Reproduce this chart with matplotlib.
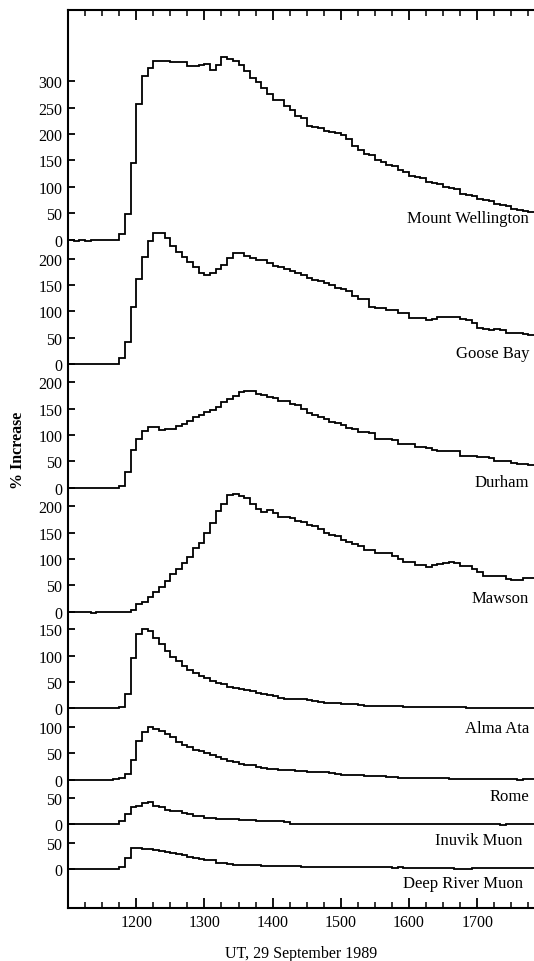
import numpy as np
import matplotlib
matplotlib.use("Agg")
import matplotlib.pyplot as plt
from matplotlib.ticker import MultipleLocator, FuncFormatter

plt.rcParams['font.family'] = ['Liberation Serif', 'DejaVu Serif']

# 5-minute bins starting at 11:00 UT, 29 September 1989 (82 bins)
t_start = 11.0
bin_hours = 5 / 60.0

stations = ["Mount Wellington", "Goose Bay", "Durham", "Mawson",
            "Alma Ata", "Rome", "Inuvik Muon", "Deep River Muon"]

mount_wellington = [-1, -2, -1, -2, -1, -1, -1, -1, -1,
                    10, 49, 145, 256, 310, 325, 338, 338, 338, 336, 336, 336,
                    329, 328, 331, 333, 322, 330, 346, 343, 339, 330, 320, 306, 298, 287, 275,
                    265, 265, 254, 246, 235, 230, 216, 214, 211, 206, 204, 202, 198, 190, 178,
                    170, 162, 160, 150, 148, 142, 140, 131, 129, 121, 119, 117, 110, 108, 105,
                    99, 97, 95, 87, 85, 82, 77, 75, 73, 68, 66, 63, 58, 56, 54, 52]
goose_bay = [0, 0, 0, 0, 0, 0, 0, 0, 0,
             11, 43, 108, 162, 204, 233, 248, 248, 240, 224, 213, 204,
             194, 184, 172, 169, 172, 180, 188, 202, 211, 211, 205, 201, 197, 197, 191,
             187, 185, 181, 176, 173, 169, 164, 159, 157, 154, 150, 144, 142, 138, 129,
             123, 123, 109, 106, 106, 103, 103, 98, 98, 88, 88, 88, 84, 86, 89,
             90, 90, 89, 85, 84, 79, 68, 67, 65, 66, 64, 60, 60, 60, 58, 56]
durham = [0, 0, 0, 0, 0, 0, 0, 0, 0,
          4, 30, 71, 92, 108, 116, 115, 110, 112, 112, 117, 121,
          126, 134, 137, 143, 148, 153, 162, 169, 174, 181, 183, 183, 178, 176, 172,
          170, 165, 165, 159, 156, 150, 142, 138, 134, 130, 125, 122, 118, 114, 112,
          106, 105, 104, 93, 93, 92, 91, 83, 83, 82, 77, 77, 76, 71, 70,
          70, 69, 69, 61, 61, 60, 58, 58, 57, 51, 50, 50, 46, 45, 45, 44]
mawson = [0, 0, 0, 0, -3, 0, 0, 0, 0, 0, 0,
          4, 14, 19, 28, 37, 47, 59, 71, 81, 93, 104, 120, 131, 149, 168,
          191, 204, 221, 224, 220, 215, 205, 195, 190, 192, 188, 180, 180, 177, 172,
          170, 164, 162, 157, 150, 145, 143, 137, 133, 128, 124, 117, 117, 111, 111,
          111, 105, 100, 95, 95, 88, 88, 85, 88, 90, 92, 95, 92, 87, 87,
          82, 75, 68, 68, 68, 67, 62, 61, 61, 64, 64]
alma_ata = [0, 0, 0, 0, 0, 0, 0, 0, 0,
            3, 27, 95, 141, 150, 147, 134, 122, 108, 98, 89, 81,
            73, 67, 61, 57, 52, 49, 47, 41, 39, 36, 34, 33, 30, 28, 26,
            23, 19, 18, 18, 17, 17, 16, 14, 12, 11, 10, 10, 9, 9, 8,
            6, 5, 5, 5, 4, 4, 4, 4, 3, 3, 2, 2, 2, 2, 2,
            2, 2, 2, 2, 1, 1, 1, 1, 1, 1, 1, 1, 0, 1, 0, 1]
rome = [-1, -1, -1, -1, -1, 0, 0, 0,
        2, 3, 11, 37, 74, 91, 100, 97, 92, 86, 80, 71, 65,
        62, 57, 54, 50, 46, 43, 39, 35, 33, 30, 28, 27, 25, 22, 21,
        20, 18, 18, 18, 17, 16, 15, 15, 15, 14, 12, 10, 9, 9, 8,
        8, 7, 7, 7, 7, 6, 6, 4, 3, 3, 3, 3, 3, 3, 3,
        3, 2, 2, 2, 2, 2, 2, 2, 2, 2, 2, 2, 2, -1, 1, 1]
inuvik = [0, 0, 0, 0, 0, 0, 0, 0, 0,
          6, 20, 32, 35, 39, 41, 35, 32, 27, 25, 24, 21,
          20, 16, 15, 11, 11, 10, 9, 9, 9, 8, 7, 7, 6, 6, 6,
          6, 5, 3, 1, 1, 1, 1, 1, 1, 0, 0, 0, 0, 0, 0,
          0, 0, 0, 0, 0, 0, 0, 0, 0, 0, 0, 1, 0, 0, 0,
          0, 0, 0, 0, 0, 0, 0, 0, 0, 0, -1, 0, 0, 0, 0, 0]
deep_river = [0, 0, 0, 0, 0, 0, 0, 0, 0,
              4, 20, 40, 40, 38, 37, 35, 34, 32, 30, 28, 26,
              23, 21, 18, 17, 16, 12, 11, 9, 8, 8, 8, 7, 7, 6, 6,
              6, 6, 6, 6, 5, 3, 3, 3, 3, 3, 3, 3, 3, 3, 3,
              3, 3, 3, 3, 3, 3, 1, 3, 1, 2, 2, 2, 2, 2, 2,
              2, 2, 0, 0, 0, 2, 2, 2, 2, 2, 2, 2, 2, 2, 2, 2]

series = [mount_wellington, goose_bay, durham, mawson, alma_ata, rome, inuvik, deep_river]
tick_max = [300, 200, 200, 200, 150, 100, 50, 50]

# vertical offsets of each trace and label placement (layout)
offsets = [1192, 956, 722, 487, 304, 169, 85, 0]
label_y = [1225, 970, 725, 505, 259, 131, 47, -35]
label_x = [17.76, 17.76, 17.76, 17.76, 17.76, 17.76, 17.667, 17.667]

fig = plt.figure(figsize=(5.34, 9.62), dpi=100)
ax = fig.add_axes([68 / 534, 1 - 909 / 962, 1 - 68 / 534, (909 - 11) / 962])

n = len(mount_wellington)
edges = t_start + np.arange(n + 1) * bin_hours

yt, ytl = [], []
for vals, off, tmax in zip(series, offsets, tick_max):
    ax.stairs(np.array(vals) + off, edges, baseline=None, color='black', lw=1.3)
    for v in range(0, tmax + 1, 50):
        yt.append(off + v)
        ytl.append(str(v))

for name, lx, ly in zip(stations, label_x, label_y):
    ax.text(lx, ly, name, ha='right', va='baseline', fontsize=12)

ax.set_xlim(11.0, 11.0 + (534 - 68) / 68.2)
ax.set_ylim(-74, 1627)

ax.set_yticks(yt)
ax.set_yticklabels(ytl)
ax.xaxis.set_major_locator(MultipleLocator(1))
ax.xaxis.set_minor_locator(MultipleLocator(0.25))
ax.xaxis.set_major_formatter(
    FuncFormatter(lambda h, p: f"{int(round(h))}00" if 11.5 < h < 17.5 else ""))

ax.tick_params(axis='x', which='major', direction='in', length=7, width=1.3,
               top=True, bottom=True, labelsize=11.5, pad=4)
ax.tick_params(axis='x', which='minor', direction='in', length=4, width=1.1,
               top=True, bottom=True)
ax.tick_params(axis='y', which='major', direction='in', length=5, width=1.3,
               labelsize=11.5, pad=4)

for s in ['left', 'top', 'bottom']:
    ax.spines[s].set_linewidth(1.5)
ax.spines['right'].set_visible(False)

ax.set_xlabel("UT, 29 September 1989", fontsize=11.5, labelpad=11)
fig.text(18 / 534, 1 - 450 / 962, "% Increase", rotation=90, ha='center', va='center',
         fontsize=11.5, fontweight='bold')

fig.savefig("out.png", dpi=100)
